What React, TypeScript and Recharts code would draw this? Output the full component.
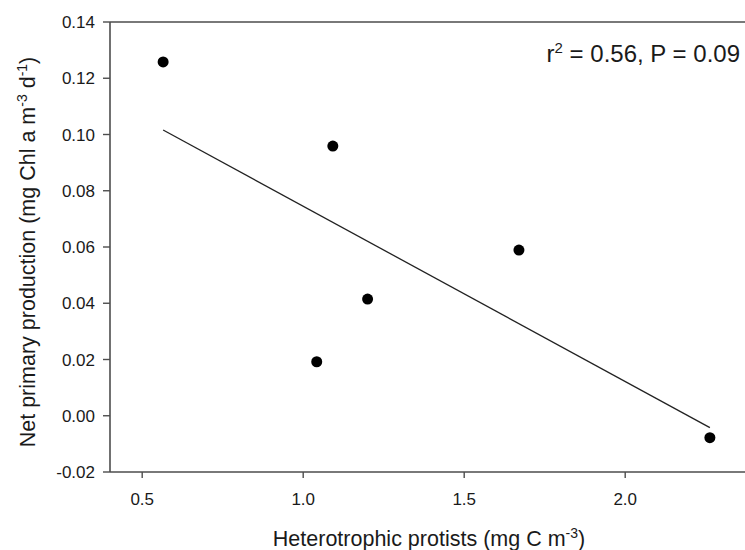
import React from 'react';
import { ScatterChart, Scatter, XAxis, YAxis, ReferenceLine, Label } from 'recharts';

// Observations: heterotrophic protists (x) vs net primary production (y)
const protists = [0.565, 1.092, 1.042, 1.2, 1.67, 2.263];
const production = [0.1258, 0.0959, 0.0192, 0.0415, 0.0589, -0.0078];

// Regression line end points
const fitX = [0.565, 2.263];
const fitY = [0.1016, -0.0042];

const xTicks = [0.5, 1.0, 1.5, 2.0];
const yTicks = [-0.02, 0, 0.02, 0.04, 0.06, 0.08, 0.1, 0.12, 0.14];
const xDomain = [0.4, 2.4];
const yDomain = [-0.02, 0.14];

const points = protists.map((x, i) => ({ x, y: production[i] }));
const fitData = fitX.map((x, i) => ({ x, y: fitY[i] }));

const FONT = '"Liberation Sans", Arial, sans-serif';
const TEXT = '#1a1a1a';
const AXIS = '#4d4d4d';

const Dot = (p: any) => <circle cx={p.cx} cy={p.cy} r={5.5} fill="#000" />;

export default function App() {
  return (
    <div style={{ position: 'absolute', left: 0, top: 0, width: 745, height: 550, overflow: 'hidden', background: '#fff' }}>
      <ScatterChart width={760} height={550} margin={{ top: 22, right: 6, left: 0, bottom: 0 }}>
        <XAxis
          type="number"
          dataKey="x"
          domain={xDomain}
          ticks={xTicks}
          allowDataOverflow
          height={78}
          tickSize={6}
          tickMargin={15}
          tickFormatter={(v: number) => v.toFixed(1)}
          tick={{ fill: TEXT, fontSize: 17, fontFamily: FONT }}
          axisLine={{ stroke: AXIS, strokeWidth: 1.6 }}
          tickLine={{ stroke: AXIS, strokeWidth: 1.4 }}
        >
          <Label
            content={() => (
              <text x={429} y={546} textAnchor="middle" fill={TEXT} fontSize={21.5} fontFamily={FONT}>
                Heterotrophic protists (mg C m
                <tspan dy={-8} fontSize={14}>-3</tspan>
                <tspan dy={8}>)</tspan>
              </text>
            )}
          />
        </XAxis>
        <YAxis
          type="number"
          dataKey="y"
          domain={yDomain}
          ticks={yTicks}
          allowDataOverflow
          width={110}
          tickSize={7}
          tickMargin={8}
          tickFormatter={(v: number) => v.toFixed(2)}
          tick={{ fill: TEXT, fontSize: 17, fontFamily: FONT }}
          axisLine={{ stroke: AXIS, strokeWidth: 1.6 }}
          tickLine={{ stroke: AXIS, strokeWidth: 1.4 }}
        >
          <Label
            content={() => (
              <text
                x={35}
                y={252}
                transform="rotate(-90, 35, 252)"
                textAnchor="middle"
                fill={TEXT}
                fontSize={21.5}
                fontFamily={FONT}
              >
                Net primary production (mg Chl a m
                <tspan dy={-8} fontSize={14}>-3</tspan>
                <tspan dy={8}> d</tspan>
                <tspan dy={-8} fontSize={14}>-1</tspan>
                <tspan dy={8}>)</tspan>
              </text>
            )}
          />
        </YAxis>
        <ReferenceLine y={0.14} stroke={AXIS} strokeWidth={1.6} ifOverflow="visible">
          <Label
            content={() => (
              <text x={740} y={62} textAnchor="end" fill={TEXT} fontSize={24} fontFamily={FONT}>
                r
                <tspan dy={-9} fontSize={15}>2</tspan>
                <tspan dy={9}> = 0.56, P = 0.09</tspan>
              </text>
            )}
          />
        </ReferenceLine>
        <Scatter
          data={fitData}
          line={{ stroke: '#222', strokeWidth: 1.3 }}
          shape={() => <g />}
          isAnimationActive={false}
        />
        <Scatter data={points} shape={Dot} isAnimationActive={false} />
      </ScatterChart>
    </div>
  );
}
